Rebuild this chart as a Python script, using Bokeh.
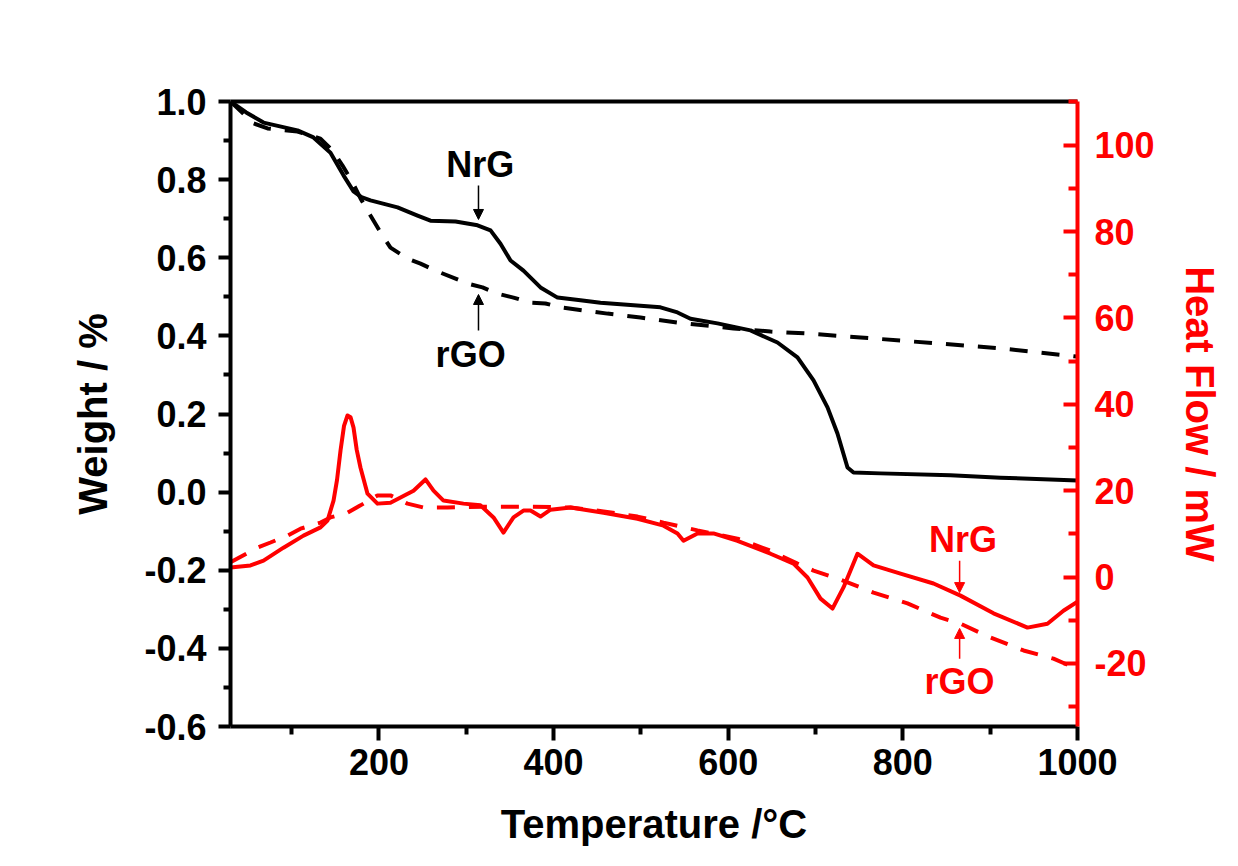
from bokeh.plotting import figure
from bokeh.models import (Range1d, LinearAxis, FixedTicker, PrintfTickFormatter,
                          Label, Arrow, NormalHead)
from bokeh.embed import file_html
from bokeh.resources import INLINE

# ---------------- data ----------------
# TGA weight, NrG (solid black)
t_nrg_w = [30, 48, 67.8, 106.7, 125, 144.5, 159.4, 170.9, 180, 190.3, 221.3, 244.2, 259,
           287.7, 312.9, 327.8, 339.2, 350.7, 365.5, 385, 404.5, 430.8, 453.7, 522.4,
           541.9, 556.8, 587.7, 625.5, 656.4, 679.3, 697.7, 713.7, 725.1, 736.6, 743.5,
           774.4, 854.5, 911.8, 1000]
w_nrg = [1.0, 0.972, 0.946, 0.926, 0.908, 0.869, 0.811, 0.770, 0.755, 0.747, 0.729, 0.708, 0.695,
         0.693, 0.683, 0.670, 0.636, 0.593, 0.567, 0.524, 0.498, 0.491, 0.485, 0.473,
         0.460, 0.444, 0.432, 0.414, 0.383, 0.345, 0.286, 0.217, 0.150, 0.063, 0.050,
         0.048, 0.043, 0.037, 0.030]

# TGA weight, rGO (dashed black)
t_rgo_w = [30, 56.3, 72.4, 106.7, 133, 146.8, 158.3, 169.7, 178.9, 190.3, 201.8, 213.2,
           232.7, 247.6, 264.8, 301.4, 318.6, 335.8, 354.1, 373.6, 390.7, 407.9, 461.7,
           499.5, 541.9, 606, 648.4, 690.8, 751.5, 911.8, 1000]
w_rgo = [1.0, 0.944, 0.931, 0.923, 0.905, 0.875, 0.836, 0.793, 0.752, 0.708, 0.665, 0.626,
         0.598, 0.585, 0.567, 0.534, 0.524, 0.508, 0.498, 0.485, 0.483, 0.473, 0.457,
         0.447, 0.434, 0.419, 0.411, 0.406, 0.396, 0.368, 0.347]

# DSC heat flow, NrG (solid red)
t_nrg_h = [30, 52.9, 67.8, 90.7, 113.6, 133.1, 141.1, 148, 152, 156, 160, 164, 167.5,
           170.9, 174.5, 178.9, 186.9, 198.3, 213.2, 239.6, 253.3, 262.5, 273.9, 296.8,
           316.3, 331.2, 342.6, 354.1, 365.5, 373.6, 385, 396.5, 419.4, 457.2, 496.1,
           525.9, 541.9, 548.8, 564.8, 583.1, 610.6, 648.4, 674.8, 690.8, 705.7, 719.4,
           732, 748, 766.4, 797.3, 835.1, 866, 903.8, 942.7, 965.6, 983.9, 1000]
h_nrg = [2.2, 2.7, 3.8, 6.8, 9.6, 11.5, 13.1, 17.7, 22.5, 29.3, 35.0, 37.4, 37.0,
         34.6, 29.5, 25.3, 19.3, 17.0, 17.2, 20.0, 22.6, 20.0, 17.7, 17.0,
         16.6, 13.8, 10.3, 13.8, 15.4, 15.4, 14.0, 15.6, 16.1, 14.9, 13.5,
         11.9, 10.1, 8.4, 10.1, 10.1, 8.4, 5.4, 3.1, -0.1, -5.0, -7.3,
         -2.4, 5.4, 2.7, 0.8, -1.5, -4.3, -8.4, -11.7, -10.8, -7.8, -5.7]

# DSC heat flow, rGO (dashed red)
t_rgo_h = [30, 60.9, 75.8, 95.3, 110.2, 133.1, 144.5, 164, 178.9, 198.3, 213.2, 232.7,
           251, 278.5, 319.7, 373.6, 419.4, 457.2, 496.1, 525.9, 564.8, 610.6, 648.4,
           679.3, 697.7, 728.6, 766.4, 805.3, 843.1, 866, 900.4, 938.2, 972.5, 988.5]
h_rgo = [3.4, 6.8, 8.0, 9.6, 11.2, 12.6, 13.8, 14.9, 16.6, 18.9, 18.9, 17.0,
         16.1, 16.1, 16.3, 16.3, 16.1, 15.2, 14.0, 12.6, 10.8, 8.9, 6.1,
         3.1, 1.5, -0.6, -3.6, -6.1, -9.4, -10.8, -14.0, -17.0, -18.9, -20.3]

x_major = [200, 400, 600, 800, 1000]
x_minor = [100, 300, 500, 700, 900]
w_major = [-0.6, -0.4, -0.2, 0.0, 0.2, 0.4, 0.6, 0.8, 1.0]
w_minor = [-0.5, -0.3, -0.1, 0.1, 0.3, 0.5, 0.7, 0.9]
h_major = [-20, 0, 20, 40, 60, 80, 100]
h_minor = [-30, -10, 10, 30, 50, 70, 90, 110]

FONT = "Liberation Sans"
RED = "#ff0000"

p = figure(width=1238, height=866, x_range=Range1d(30, 1000), y_range=Range1d(-0.6, 1.0),
           output_backend="svg", toolbar_location=None,
           min_border_left=230, min_border_right=161, min_border_top=101, min_border_bottom=140)
p.extra_y_ranges = {"hf": Range1d(-34.6, 110.1)}
p.grid.visible = False
p.outline_line_color = None
p.background_fill_color = "white"
p.border_fill_color = "white"

# bottom axis
xa = p.xaxis[0]
xa.ticker = FixedTicker(ticks=x_major, minor_ticks=x_minor)
xa.axis_label = "Temperature /°C"
# left axis
ya = p.yaxis[0]
ya.ticker = FixedTicker(ticks=w_major, minor_ticks=w_minor)
ya.formatter = PrintfTickFormatter(format="%.1f")
ya.axis_label = "Weight / %"

for ax in (xa, ya):
    ax.axis_line_width = 4
    ax.axis_line_color = "black"
    ax.major_tick_line_width = 4
    ax.minor_tick_line_width = 4
    ax.major_tick_in = 0
    ax.minor_tick_in = 0
    ax.major_label_text_font = FONT
    ax.major_label_text_font_style = "bold"
    ax.major_label_text_font_size = "36px"
    ax.axis_label_text_font = FONT
    ax.axis_label_text_font_style = "bold"
    ax.axis_label_text_font_size = "40px"
    ax.major_label_text_color = "black"
    ax.axis_label_text_color = "black"

xa.major_tick_out = 14
xa.minor_tick_out = 8
xa.major_label_standoff = 8
xa.axis_label_standoff = 24
ya.major_tick_out = 12
ya.minor_tick_out = 7
ya.major_label_standoff = 12
ya.axis_label_standoff = 26

# right axis (heat flow)
ra = LinearAxis(y_range_name="hf", ticker=FixedTicker(ticks=h_major, minor_ticks=h_minor),
                formatter=PrintfTickFormatter(format="%d"),
                axis_label="Heat Flow / mW")
ra.axis_line_width = 4
ra.axis_line_color = RED
ra.major_tick_line_color = RED
ra.minor_tick_line_color = RED
ra.major_tick_line_width = 4
ra.minor_tick_line_width = 4
ra.major_tick_in = 14
ra.major_tick_out = 0
ra.minor_tick_in = 9
ra.minor_tick_out = 0
ra.major_label_text_font = FONT
ra.major_label_text_font_style = "bold"
ra.major_label_text_font_size = "36px"
ra.major_label_text_color = RED
ra.major_label_standoff = 17
ra.axis_label_text_font = FONT
ra.axis_label_text_font_style = "bold"
ra.axis_label_text_font_size = "40px"
ra.axis_label_text_color = RED
ra.axis_label_standoff = 20
p.add_layout(ra, "right")

# top frame line
ta = LinearAxis(ticker=FixedTicker(ticks=[]), axis_line_width=4, axis_line_color="black",
                major_tick_line_color=None, minor_tick_line_color=None)
p.add_layout(ta, "above")

# curves
p.line(t_rgo_w, w_rgo, line_color="black", line_width=4, line_dash="18 14")
p.line(t_nrg_w, w_nrg, line_color="black", line_width=4, line_join="round")
p.line(t_rgo_h, h_rgo, line_color=RED, line_width=4, line_dash="18 14", y_range_name="hf")
p.line(t_nrg_h, h_nrg, line_color=RED, line_width=4, line_join="round", y_range_name="hf")

# annotations
def lab(x, y, text, color, rng="default"):
    p.add_layout(Label(x=x, y=y, text=text, text_font=FONT, text_font_style="bold",
                       text_font_size="36px", text_color=color, text_align="center",
                       text_baseline="middle", y_range_name=rng))

def arr(x, y0, y1, color, rng="default"):
    p.add_layout(Arrow(x_start=x, y_start=y0, x_end=x, y_end=y1, line_color=color,
                       line_width=1.5, y_range_name=rng,
                       end=NormalHead(size=10, fill_color=color, line_color=color)))

lab(316, 0.839, "NrG", "black")
arr(314, 0.785, 0.698, "black")
lab(305, 0.352, "rGO", "black")
arr(314, 0.414, 0.506, "black")

lab(869, 8.7, "NrG", RED, "hf")
arr(865, 3.8, -3.6, RED, "hf")
lab(865, -24.2, "rGO", RED, "hf")
arr(865, -18.9, -11.9, RED, "hf")

open("out.html", "w").write(file_html(p, INLINE))
